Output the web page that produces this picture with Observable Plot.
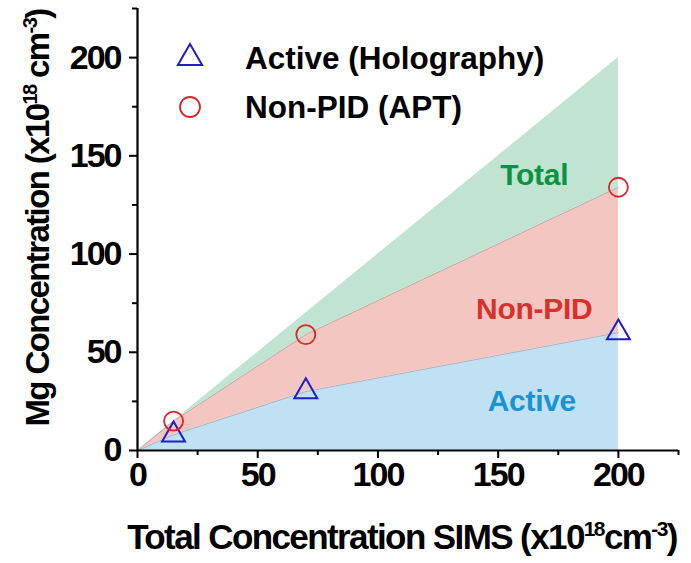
<!DOCTYPE html>
<html><head><meta charset="utf-8">
<script src="https://cdn.jsdelivr.net/npm/d3@7"></script>
<script src="https://cdn.jsdelivr.net/npm/@observablehq/plot@0.6"></script>
<style>body{margin:0;background:#fff}</style>
</head><body><div id="chart"></div>
<script>
// SIMS total concentration (x10^18 cm^-3), origin included
const sims = [0, 15, 70, 200];
const active = [0, 8, 30, 60];      // Active (Holography)
const nonPid = [0, 15, 59, 134];    // Non-PID (APT)
const total = [0, 15, 70, 200];     // Total = SIMS
const majorTicks = [0, 50, 100, 150, 200];
const minorTicks = [25, 75, 125, 175, 225];
const legendLabels = ["Active (Holography)", "Non-PID (APT)"];
const regionLabels = ["Total", "Non-PID", "Active"];

const rows = sims.map((s, i) => ({sims: s, active: active[i], nonPid: nonPid[i], total: total[i]}));
const pts = rows.filter(d => d.sims > 0);

const font = "'Liberation Sans', Arial, sans-serif";
const plot = Plot.plot({
  width: 691, height: 563,
  marginLeft: 137, marginRight: 13, marginTop: 8, marginBottom: 113,
  x: {domain: [0, 225], label: null},
  y: {domain: [0, 225], label: null},
  style: {fontFamily: font, fontWeight: "bold", background: "white", overflow: "visible", letterSpacing: "-2px", color: "black"},
  marks: [
    Plot.areaY(rows, {x: "sims", y1: 0, y2: "active", fill: "#bfe1f3", fillOpacity: 1}),
    Plot.areaY(rows, {x: "sims", y1: "active", y2: "nonPid", fill: "#f4c6c2", fillOpacity: 1}),
    Plot.areaY(rows, {x: "sims", y1: "nonPid", y2: "total", fill: "#c1e3d2", fillOpacity: 1}),
    Plot.line(rows, {x: "sims", y: "active", stroke: "#a8a8a8", strokeWidth: 0.8}),
    Plot.line(rows, {x: "sims", y: "nonPid", stroke: "#a8a8a8", strokeWidth: 0.8}),
    Plot.text([regionLabels[0]], {x: 165, y: 140, text: d => d, fill: "#0b9343", fontSize: 30, fontWeight: "bold", className: "region"}),
    Plot.text([regionLabels[1]], {x: 165, y: 72, text: d => d, fill: "#d8302b", fontSize: 30, fontWeight: "bold", className: "region"}),
    Plot.text([regionLabels[2]], {x: 164, y: 25, text: d => d, fill: "#1b93d2", fontSize: 30, fontWeight: "bold", className: "region"}),
    Plot.dot(pts, {x: "sims", y: "active", symbol: "triangle", r: 8.5, stroke: "#1f1fc4", strokeWidth: 2, fill: "none"}),
    Plot.dot(pts, {x: "sims", y: "nonPid", symbol: "circle", r: 9.5, stroke: "#d8262a", strokeWidth: 1.8, fill: "none"}),
    Plot.axisX({ticks: majorTicks, tickSize: 8, strokeWidth: 2, fontSize: 34, tickPadding: 3, label: null}),
    Plot.axisX({ticks: minorTicks, tickSize: 5, strokeWidth: 2, tickFormat: () => "", label: null}),
    Plot.axisY({ticks: majorTicks, tickSize: 8, strokeWidth: 2, fontSize: 34, tickPadding: 9, label: null}),
    Plot.axisY({ticks: minorTicks, tickSize: 5, strokeWidth: 2, tickFormat: () => "", label: null}),
    Plot.ruleX([0], {strokeWidth: 2.2}),
    Plot.ruleY([0], {strokeWidth: 2.2})
  ]
});
document.getElementById("chart").append(plot);

const svg = d3.select(plot);
svg.selectAll("g.region, .region").style("letter-spacing", "-0.3px");

// Legend
const lg = svg.append("g").attr("text-anchor", "start").style("letter-spacing", "0px");
lg.append("path").attr("d", d3.symbol(d3.symbolTriangle, Math.PI * 9 * 9)()).attr("transform", "translate(190,58)")
  .attr("fill", "none").attr("stroke", "#1f1fc4").attr("stroke-width", 2);
lg.append("circle").attr("cx", 190).attr("cy", 107).attr("r", 10).attr("fill", "none").attr("stroke", "#d8262a").attr("stroke-width", 1.8);
lg.append("text").attr("x", 245).attr("y", 58).attr("dy", "0.36em").attr("font-size", 31.5).text(legendLabels[0]);
lg.append("text").attr("x", 245).attr("y", 107).attr("dy", "0.36em").attr("font-size", 31.5).text(legendLabels[1]);

// Axis titles with superscripts
const xt = svg.append("text").attr("x", 402).attr("y", 549).attr("text-anchor", "middle").attr("font-size", 35).style("letter-spacing", "-1.6px");
xt.append("tspan").text("Total Concentration SIMS (x10");
xt.append("tspan").attr("dy", -13).attr("font-size", 21).text("18");
xt.append("tspan").attr("dy", 13).text("cm");
xt.append("tspan").attr("dy", -13).attr("font-size", 21).text("-3");
xt.append("tspan").attr("dy", 13).text(")");

const yt = svg.append("text").attr("transform", "translate(49,218) rotate(-90)").attr("text-anchor", "middle").attr("font-size", 33).style("letter-spacing", "-1.6px");
yt.append("tspan").text("Mg Concentration (x10");
yt.append("tspan").attr("dy", -12).attr("font-size", 20).text("18");
yt.append("tspan").attr("dy", 12).text(" cm");
yt.append("tspan").attr("dy", -12).attr("font-size", 20).text("-3");
yt.append("tspan").attr("dy", 12).text(")");
</script></body></html>
